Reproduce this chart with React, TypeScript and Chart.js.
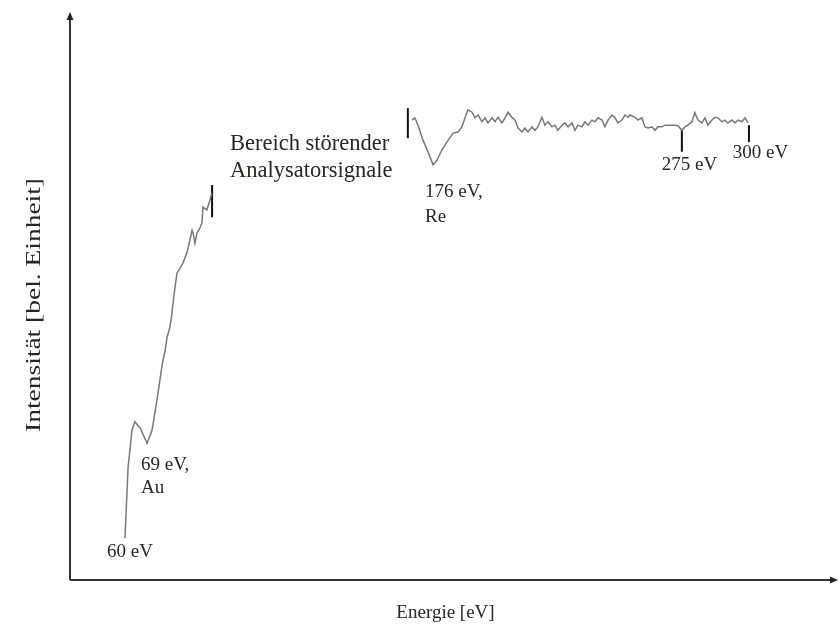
import React, { useEffect, useRef } from "react";
import { Chart, registerables } from "chart.js";

Chart.register(...registerables);

// ---- Data (energy in eV, intensity in arbitrary units) ----
const lowEnergy = [60.0, 61.2, 62.7, 63.8, 65.8, 68.5, 70.4, 72.3, 73.5, 74.6, 75.4, 76.2, 77.2, 78.1, 79.0, 80.0, 81.2, 82.3, 83.8, 85.0, 85.8, 86.2, 86.9, 87.7, 88.8, 89.6, 90.0, 91.5, 92.7, 93.5];
const lowIntensity = [7.4, 20.0, 26.5, 28.0, 26.9, 24.2, 26.5, 31.9, 35.6, 38.9, 40.5, 43.0, 44.6, 47.3, 51.0, 54.3, 55.2, 56.1, 57.9, 60.2, 61.9, 61.4, 59.6, 61.4, 62.3, 63.2, 66.0, 65.5, 67.3, 68.5];

const highEnergy = [170.4, 171.5, 172.7, 174.6, 177.3, 178.5, 180.0, 181.9, 183.8, 186.2, 188.1, 189.6, 190.8, 191.9, 193.5, 194.6, 195.8, 197.3, 198.5, 199.6, 201.2, 202.3, 203.5, 205.0, 206.2, 207.3, 208.8, 210.0, 211.2, 212.7, 213.8, 215.0, 216.5, 217.7, 218.8, 220.4, 221.5, 222.7, 224.2, 225.4, 226.5, 228.1, 229.2, 230.4, 231.9, 233.1, 234.2, 235.8, 236.9, 238.1, 239.6, 240.8, 241.9, 243.5, 244.6, 245.8, 247.3, 248.5, 249.6, 251.2, 252.3, 253.5, 254.2, 256.2, 257.3, 258.8, 260.0, 261.2, 262.7, 263.8, 265.0, 266.5, 267.7, 268.8, 270.4, 271.5, 272.7, 274.2, 275.4, 276.5, 278.1, 279.2, 280.4, 281.9, 283.1, 284.2, 285.8, 286.9, 288.1, 289.6, 290.8, 291.9, 293.5, 294.6, 295.8, 297.3, 298.5, 299.6];
const highIntensity = [81.4, 81.8, 80.5, 77.9, 74.9, 73.5, 74.3, 76.1, 77.5, 79.1, 79.3, 80.2, 81.8, 83.2, 82.8, 81.8, 82.3, 81.1, 81.8, 80.9, 81.8, 81.1, 81.9, 80.9, 81.8, 82.8, 81.9, 81.4, 80.0, 79.3, 80.0, 79.3, 80.2, 79.6, 80.2, 81.9, 80.5, 81.1, 80.2, 80.5, 79.6, 80.5, 80.9, 80.2, 80.9, 79.6, 80.5, 80.2, 81.1, 80.5, 81.4, 81.1, 81.8, 81.4, 80.2, 81.4, 82.3, 81.8, 80.9, 81.4, 82.3, 81.9, 82.3, 81.9, 81.4, 81.8, 80.2, 80.0, 80.2, 79.6, 80.2, 80.2, 80.5, 80.5, 80.5, 80.5, 80.4, 79.6, 80.2, 80.5, 81.1, 82.7, 81.4, 80.9, 81.8, 80.5, 81.4, 81.9, 81.8, 81.1, 81.4, 80.9, 81.4, 80.9, 81.4, 81.1, 81.8, 80.9];

// vertical marker strokes
const markerEnergy = [93.5, 168.8, 274.2, 300.0];
const markerLow = [64.2, 78.2, 75.8, 77.5];
const markerHigh = [69.9, 83.5, 79.6, 80.5];

// text annotations (anchor = left edge / first baseline)
const annotationLines = [
  ["60 eV"],
  ["69 eV,", "Au"],
  ["Bereich störender", "Analysatorsignale"],
  ["176 eV,", "Re"],
  ["275 eV"],
  ["300 eV"],
];
const annotationEnergy = [53.1, 66.15, 100.4, 175.4, 266.5, 293.8];
const annotationIntensity = [4.07, 19.47, 76.1, 67.8, 72.6, 74.7];

const xTitle = "Energie [eV]";
const yTitle = "Intensität [bel. Einheit]";

const xMin = 38.85;
const xMax = 333.1;
const yMin = 0;
const yMax = 100;

const FONT = "'Liberation Serif', 'Times New Roman', serif";
const TEXT_COLOR = "#2a2622";
const annotationFontSize = [19, 19, 22.5, 19, 19, 19];
const annotationLineHeight = [23, 23, 27, 25, 23, 23];

const decorPlugin = {
  id: "decor",
  afterDatasetsDraw(chart: any) {
    const { ctx, chartArea, scales } = chart;
    const { left, right, top, bottom } = chartArea;
    ctx.save();
    // axes
    ctx.strokeStyle = "#333";
    ctx.fillStyle = "#222";
    ctx.lineWidth = 2;
    ctx.beginPath();
    ctx.moveTo(left, bottom);
    ctx.lineTo(left, top + 3);
    ctx.moveTo(left, bottom);
    ctx.lineTo(right - 3, bottom);
    ctx.stroke();
    // arrow heads
    ctx.beginPath();
    ctx.moveTo(left, top - 3);
    ctx.lineTo(left - 3.5, top + 5);
    ctx.lineTo(left + 3.5, top + 5);
    ctx.closePath();
    ctx.fill();
    ctx.beginPath();
    ctx.moveTo(right + 3, bottom);
    ctx.lineTo(right - 5, bottom - 3.5);
    ctx.lineTo(right - 5, bottom + 3.5);
    ctx.closePath();
    ctx.fill();

    // annotations
    ctx.fillStyle = TEXT_COLOR;
    ctx.textAlign = "left";
    ctx.textBaseline = "alphabetic";
    annotationLines.forEach((lines, i) => {
      const x = scales.x.getPixelForValue(annotationEnergy[i]);
      const y = scales.y.getPixelForValue(annotationIntensity[i]);
      ctx.font = `${annotationFontSize[i]}px ${FONT}`;
      const lh = annotationLineHeight[i];
      lines.forEach((t, j) => ctx.fillText(t, x, y + j * lh));
    });

    // axis titles
    ctx.font = `19px ${FONT}`;
    ctx.textAlign = "center";
    ctx.fillText(xTitle, (left + right) / 2 - 7, bottom + 38);
    ctx.save();
    ctx.font = `20px ${FONT}`;
    const w = ctx.measureText(yTitle).width;
    const stretch = 254 / w;
    ctx.translate(left - 37, top + 290);
    ctx.rotate(-Math.PI / 2);
    ctx.scale(stretch, 1);
    ctx.fillText(yTitle, 0, 7);
    ctx.restore();
    ctx.restore();
  },
};

export default function App() {
  const ref = useRef<HTMLCanvasElement | null>(null);
  useEffect(() => {
    if (!ref.current) return;
    const curveStyle = {
      borderColor: "rgba(105,105,105,0.9)",
      borderWidth: 1.5,
      pointRadius: 0,
      tension: 0,
      fill: false,
      showLine: true,
    };
    const datasets: any[] = [
      {
        ...curveStyle,
        label: "low",
        data: lowEnergy.map((e, i) => ({ x: e, y: lowIntensity[i] })),
      },
      {
        ...curveStyle,
        label: "high",
        data: highEnergy.map((e, i) => ({ x: e, y: highIntensity[i] })),
      },
    ];
    markerEnergy.forEach((e, i) => {
      datasets.push({
        label: "marker" + i,
        data: [
          { x: e, y: markerLow[i] },
          { x: e, y: markerHigh[i] },
        ],
        borderColor: "#111",
        borderWidth: 2,
        pointRadius: 0,
        showLine: true,
        fill: false,
      });
    });
    const chart = new Chart(ref.current, {
      type: "scatter",
      data: { datasets },
      options: {
        animation: false,
        responsive: false,
        maintainAspectRatio: false,
        layout: { padding: { left: 70, top: 15, right: 3, bottom: 55 } },
        plugins: {
          legend: { display: false },
          tooltip: { enabled: false },
          title: { display: false },
        },
        scales: {
          x: { type: "linear", display: false, min: xMin, max: xMax },
          y: { type: "linear", display: false, min: yMin, max: yMax },
        },
      },
      plugins: [decorPlugin],
    });
    return () => chart.destroy();
  }, []);
  return (
    <div style={{ position: "fixed", left: 0, top: 0, width: 838, height: 635, background: "#fff" }}>
      <canvas ref={ref} width={838} height={635} style={{ width: 838, height: 635, display: "block" }} />
    </div>
  );
}
